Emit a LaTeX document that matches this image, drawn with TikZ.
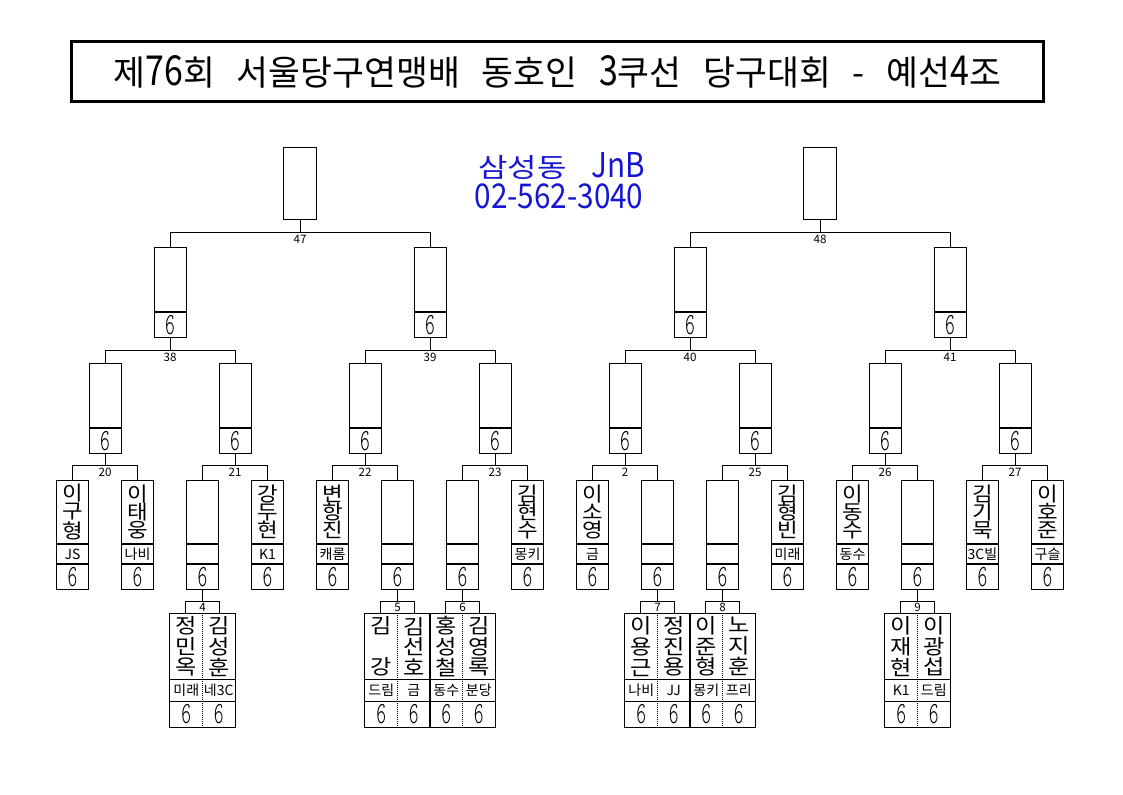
\documentclass[tikz,border=0pt]{standalone}
\usepackage{fontspec}
\newfontfamily\kr{Noto Sans CJK KR}
\newfontfamily\krname{Noto Sans CJK KR}[FakeStretch=1.12]
\newfontfamily\krt{Noto Sans CJK KR}[WordSpace=2.8]
\newfontfamily\krdt{Noto Sans CJK KR}[FakeStretch=0.82]
\newfontfamily\krb{Noto Sans CJK KR}[FakeStretch=1.2, WordSpace=3.5]
\newfontfamily\krdb{Noto Sans CJK KR}[FakeStretch=0.87]
\newfontfamily\sixfont{Latin Modern Mono Light}
\definecolor{jnbblue}{RGB}{22,22,210}
\newcommand\sixmark{\scalebox{1}[1.65]{\fontsize{14}{14}\selectfont\sixfont 6}}
\tikzset{
  ln/.style={line width=0.75pt},
  nm/.style={draw, ln, minimum width=24pt, minimum height=47.25pt, inner sep=0pt, align=center, font=\krname\fontsize{15}{13.7}\selectfont},
  cl/.style={draw, ln, minimum width=24pt, minimum height=14.25pt, inner sep=0pt, font=\kr\fontsize{10.5}{10.5}\selectfont},
  sc/.style={draw, ln, minimum width=24pt, minimum height=18.75pt, inner sep=0pt},
  mtop/.style={draw, ln, minimum width=24pt, minimum height=48pt, inner sep=0pt},
  fin/.style={draw, ln, minimum width=24.75pt, minimum height=54pt, inner sep=0pt},
  num/.style={inner sep=0pt, font=\kr\fontsize{8.7}{8.7}\selectfont, anchor=north},
  sbox/.style={draw, ln, minimum width=25.5pt, minimum height=9pt, inner sep=0pt, font=\kr\fontsize{8.7}{8.7}\selectfont},
  bn/.style={minimum width=24.375pt, minimum height=49.5pt, inner sep=0pt, align=center, font=\krname\fontsize{15.5}{15.6}\selectfont},
  bc/.style={minimum width=24.375pt, minimum height=15.75pt, inner sep=0pt, font=\kr\fontsize{10.5}{10.5}\selectfont},
  bs/.style={minimum width=24.375pt, minimum height=19.5pt, inner sep=0pt},
  dotline/.style={line width=0.75pt, dash pattern=on 0.75pt off 0.75pt},
}
\newcommand\leaf[4]{%
  \node[nm, anchor=north] (#1n) at (#2,480) {#3};
  \node[cl, anchor=north] (#1c) at (#1n.south) {#4};
  \node[sc, anchor=north] (#1s) at (#1c.south) {\sixmark};
}
\newcommand\midbox[3]{%
  \node[mtop, anchor=north] (#1t) at (#2,#3) {};
  \node[sc, anchor=north] (#1s) at (#1t.south) {\sixmark};
}
\newcommand\bracket[7]{%
  \coordinate (#1) at (#3,#4);
  \draw[ln] (#6.north) |- (#1) -| (#7.north);
  \draw[ln] (#5.south) -- (#1);
  \node[num] (#1l) at ([yshift=-2.2pt]#1) {#2};
}
\newcommand\pairgrp[8]{%
  \node[sbox, anchor=north] (#1b) at (#3,601) {#2};
  \draw[ln] (#4.south) -- (#1b.north);
  \node[bn, anchor=north] (#1an) at ({#3-16.25},613) {#5};
  \node[bc, anchor=north] (#1ac) at (#1an.south) {#6};
  \node[bs, anchor=north] (#1as) at (#1ac.south) {\sixmark};
  \node[bn, anchor=north] (#1bn) at ({#3+16.25},613) {#7};
  \node[bc, anchor=north] (#1bc) at (#1bn.south) {#8};
  \node[bs, anchor=north] (#1bs) at (#1bc.south) {\sixmark};
  \draw[ln] (#1an.north west) rectangle (#1bs.south east);
  \draw[ln] (#1an.south west) -- (#1bn.south east);
  \draw[ln] (#1ac.south west) -- (#1bc.south east);
  \draw[dotline] (#1an.north east) -- (#1as.south east);
}
\newcommand\tdig[1]{{\krdt\fontsize{31}{31}\selectfont #1}}
\begin{document}
\begin{tikzpicture}[x=0.75pt,y=-0.75pt]
\useasboundingbox (0,0) rectangle (1123,794);
\fill[white] (0,0) rectangle (1123,794);
% title
\node[draw, line width=2.25pt, minimum width=728.6pt, minimum height=45pt, inner sep=0pt] (title) at (557.25,71.5)
  {\krt\fontsize{26}{26}\selectfont 제\tdig{76}회 서울당구연맹배 동호인 \tdig{3}쿠선 당구대회 - 예선\tdig{4}조};
% blue text
\node[text=jnbblue, inner sep=0pt, anchor=base] (jnb1) at (562,177) {\krb\fontsize{20}{20}\selectfont 삼성동 {\krdb\fontsize{25.6}{25.6}\selectfont JnB}};
\node[text=jnbblue, inner sep=0pt, anchor=base] (jnb2) at (559,208) {\krdb\fontsize{25.6}{25.6}\selectfont 02-562-3040};
% finals
\node[fin, anchor=north] (f47) at (300,147) {};
\node[fin, anchor=north] (f48) at (820,147) {};
% level 2
\midbox{m47a}{170}{247}
\midbox{m47b}{430}{247}
\midbox{m48a}{690}{247}
\midbox{m48b}{950}{247}
% level 3
\midbox{m38a}{105}{363}
\midbox{m38b}{235}{363}
\midbox{m39a}{365}{363}
\midbox{m39b}{495}{363}
\midbox{m40a}{625}{363}
\midbox{m40b}{755}{363}
\midbox{m41a}{885}{363}
\midbox{m41b}{1015}{363}
% leaves
\leaf{l20a}{72.5}{이\\구\\형}{JS}
\leaf{l20b}{137.5}{이\\태\\웅}{나비}
\leaf{l21a}{202.5}{}{}
\leaf{l21b}{267.5}{강\\두\\현}{K1}
\leaf{l22a}{332.5}{변\\항\\진}{캐롬}
\leaf{l22b}{397.5}{}{}
\leaf{l23a}{462.5}{}{}
\leaf{l23b}{527.5}{김\\현\\수}{몽키}
\leaf{l2a}{592.5}{이\\소\\영}{금}
\leaf{l2b}{657.5}{}{}
\leaf{l25a}{722.5}{}{}
\leaf{l25b}{787.5}{김\\형\\빈}{미래}
\leaf{l26a}{852.5}{이\\동\\수}{동수}
\leaf{l26b}{917.5}{}{}
\leaf{l27a}{982.5}{김\\기\\묵}{3C빌}
\leaf{l27b}{1047.5}{이\\호\\준}{구슬}
% brackets
\bracket{j47}{47}{300}{232}{f47}{m47at}{m47bt}
\bracket{j48}{48}{820}{232}{f48}{m48at}{m48bt}
\bracket{j38}{38}{170}{350}{m47as}{m38at}{m38bt}
\bracket{j39}{39}{430}{350}{m47bs}{m39at}{m39bt}
\bracket{j40}{40}{690}{350}{m48as}{m40at}{m40bt}
\bracket{j41}{41}{950}{350}{m48bs}{m41at}{m41bt}
\bracket{j20}{20}{105}{465}{m38as}{l20an}{l20bn}
\bracket{j21}{21}{235}{465}{m38bs}{l21an}{l21bn}
\bracket{j22}{22}{365}{465}{m39as}{l22an}{l22bn}
\bracket{j23}{23}{495}{465}{m39bs}{l23an}{l23bn}
\bracket{j2}{2}{625}{465}{m40as}{l2an}{l2bn}
\bracket{j25}{25}{755}{465}{m40bs}{l25an}{l25bn}
\bracket{j26}{26}{885}{465}{m41as}{l26an}{l26bn}
\bracket{j27}{27}{1015}{465}{m41bs}{l27an}{l27bn}
% bottom pairs
\pairgrp{p4}{4}{202.5}{l21as}{정\\민\\옥}{미래}{김\\성\\훈}{네3C}
\pairgrp{p5}{5}{397.5}{l22bs}{김\\~\\강}{드림}{김\\선\\호}{금}
\pairgrp{p6}{6}{462.5}{l23as}{홍\\성\\철}{동수}{김\\영\\록}{분당}
\pairgrp{p7}{7}{657.5}{l2bs}{이\\용\\근}{나비}{정\\진\\용}{JJ}
\pairgrp{p8}{8}{722.5}{l25as}{이\\준\\형}{몽키}{노\\지\\훈}{프리}
\pairgrp{p9}{9}{917.5}{l26bs}{이\\재\\현}{K1}{이\\광\\섭}{드림}
\end{tikzpicture}
\end{document}
